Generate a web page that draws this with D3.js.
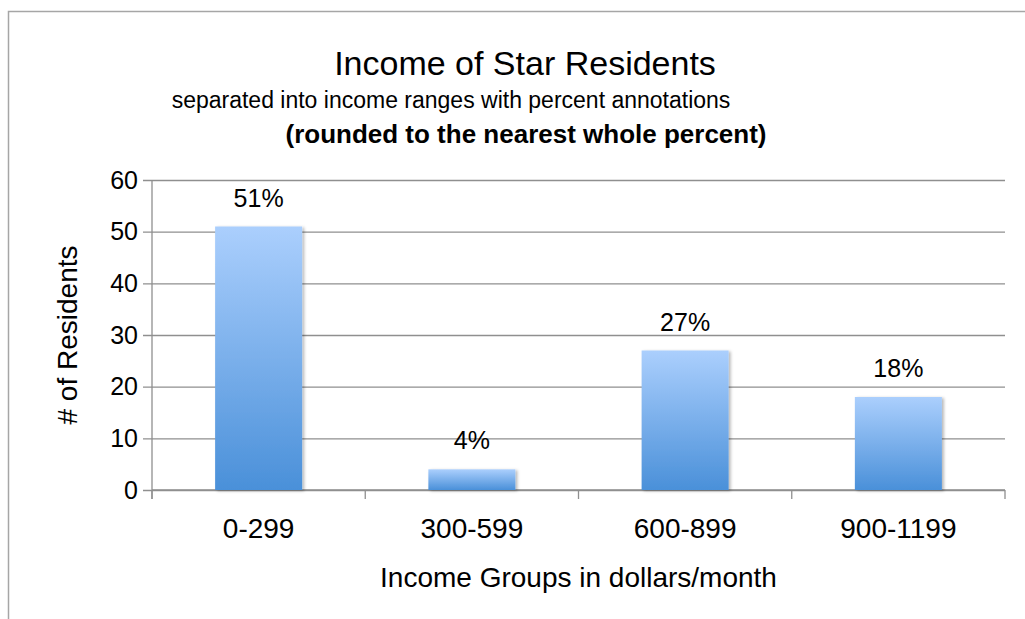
<!DOCTYPE html>
<html>
<head>
<meta charset="utf-8">
<script src="https://cdn.jsdelivr.net/npm/d3@7"></script>
<style>
  html, body { margin: 0; padding: 0; background: #fff; }
  svg { display: block; font-family: "Liberation Sans", Arial, sans-serif; }
</style>
</head>
<body>
<svg id="chart" width="1025" height="619"></svg>
<script>
// Income groups and resident counts
const categories = ["0-299", "300-599", "600-899", "900-1199"];
const residents = [51, 4, 27, 18];
const percentLabels = ["51%", "4%", "27%", "18%"];
const yTicks = [0, 10, 20, 30, 40, 50, 60];

const titleText = "Income of Star Residents";
const subtitleText = "separated into income ranges with percent annotations";
const noteText = "(rounded to the nearest whole percent)";
const xTitle = "Income Groups in dollars/month";
const yTitle = "# of Residents";

const svg = d3.select("#chart");
const W = 1025, H = 619;

// plot area
const plot = { left: 152, right: 1005, top: 180, bottom: 490 };

const x = d3.scaleBand()
  .domain(categories)
  .range([plot.left, plot.right])
  .paddingInner(0.592)
  .paddingOuter(0.296);

const y = d3.scaleLinear()
  .domain([0, 60])
  .range([plot.bottom, plot.top]);

// outer frame (top and left edges visible)
svg.append("path")
  .attr("d", `M8.5,${H} L8.5,11.5 L${W},11.5`)
  .attr("fill", "none")
  .attr("stroke", "#a6a6a6")
  .attr("stroke-width", 1.5);

const defs = svg.append("defs");
const grad = defs.append("linearGradient")
  .attr("id", "barFill").attr("x1", 0).attr("y1", 0).attr("x2", 0).attr("y2", 1);
grad.append("stop").attr("offset", "0%").attr("stop-color", "#abcffd");
grad.append("stop").attr("offset", "100%").attr("stop-color", "#4a90d9");

const shadow = defs.append("filter").attr("id", "barShadow")
  .attr("x", "-10%").attr("y", "-10%").attr("width", "130%").attr("height", "130%");
shadow.append("feDropShadow")
  .attr("dx", 2).attr("dy", 1).attr("stdDeviation", 1.6)
  .attr("flood-color", "#000").attr("flood-opacity", 0.28);

// horizontal gridlines with left tick stubs
const yAxis = d3.axisLeft(y)
  .tickValues(yTicks)
  .tickSize(-(plot.right - plot.left))
  .tickPadding(14)
  .tickFormat(d3.format("d"));

const gy = svg.append("g")
  .attr("transform", `translate(${plot.left},0)`)
  .call(yAxis);
gy.select(".domain").remove();
gy.selectAll(".tick line")
  .attr("x1", -9)
  .attr("stroke", "#8f8f8f")
  .attr("stroke-width", 1.3);
gy.selectAll(".tick text")
  .attr("font-size", 25)
  .attr("fill", "#000");

// vertical axis line
svg.append("line")
  .attr("x1", plot.left).attr("x2", plot.left)
  .attr("y1", plot.top).attr("y2", plot.bottom + 9)
  .attr("stroke", "#8f8f8f").attr("stroke-width", 1.3);

// bottom axis with ticks between categories
const boundaries = categories.map(c => x(c) - x.step() * x.paddingInner() / 2)
  .concat([plot.right]);
boundaries[0] = plot.left;
svg.append("line")
  .attr("x1", plot.left).attr("x2", plot.right)
  .attr("y1", plot.bottom).attr("y2", plot.bottom)
  .attr("stroke", "#8f8f8f").attr("stroke-width", 1.3);
svg.selectAll(".xtick").data(boundaries).enter().append("line")
  .attr("x1", d => d).attr("x2", d => d)
  .attr("y1", plot.bottom).attr("y2", plot.bottom + 9)
  .attr("stroke", "#8f8f8f").attr("stroke-width", 1.3);

const gx = svg.append("g")
  .attr("transform", `translate(0,${plot.bottom})`)
  .call(d3.axisBottom(x).tickSize(0).tickPadding(28));
gx.select(".domain").remove();
gx.selectAll(".tick text")
  .attr("font-size", 28)
  .attr("fill", "#000");

// bars
svg.selectAll(".bar").data(residents).enter().append("rect")
  .attr("class", "bar")
  .attr("x", (d, i) => x(categories[i]))
  .attr("width", x.bandwidth())
  .attr("y", d => y(d))
  .attr("height", d => y(0) - y(d))
  .attr("fill", "url(#barFill)")
  .attr("filter", "url(#barShadow)");

// percent annotations
svg.selectAll(".pct").data(residents).enter().append("text")
  .attr("x", (d, i) => x(categories[i]) + x.bandwidth() / 2)
  .attr("y", d => y(d) - 20)
  .attr("text-anchor", "middle")
  .attr("font-size", 25)
  .attr("fill", "#000")
  .text((d, i) => percentLabels[i]);

// titles
svg.append("text")
  .attr("x", 525).attr("y", 75)
  .attr("text-anchor", "middle")
  .attr("font-size", 34)
  .attr("fill", "#000")
  .text(titleText);

svg.append("text")
  .attr("x", 451).attr("y", 108)
  .attr("text-anchor", "middle")
  .attr("font-size", 23)
  .attr("fill", "#000")
  .text(subtitleText);

svg.append("text")
  .attr("x", 526).attr("y", 143)
  .attr("text-anchor", "middle")
  .attr("font-size", 26)
  .attr("font-weight", "bold")
  .attr("fill", "#000")
  .text(noteText);

// axis titles
svg.append("text")
  .attr("x", (plot.left + plot.right) / 2).attr("y", 587)
  .attr("text-anchor", "middle")
  .attr("font-size", 28)
  .attr("fill", "#000")
  .text(xTitle);

svg.append("text")
  .attr("transform", `translate(77,335) rotate(-90)`)
  .attr("text-anchor", "middle")
  .attr("font-size", 28)
  .attr("fill", "#000")
  .text(yTitle);
</script>
</body>
</html>
